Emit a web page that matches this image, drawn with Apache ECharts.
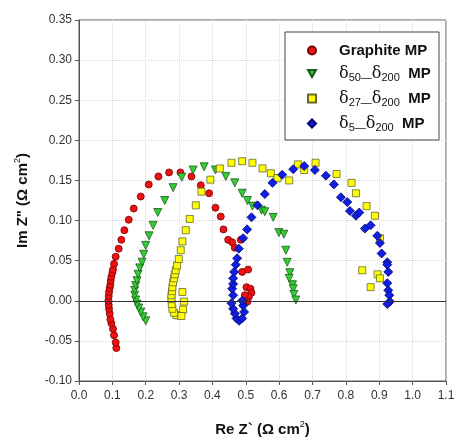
<!DOCTYPE html>
<html><head><meta charset="utf-8">
<script src="https://cdn.jsdelivr.net/npm/echarts@6/dist/echarts.min.js"></script>
<style>html,body{margin:0;padding:0;background:#fff}#c{width:458px;height:448px}</style>
</head><body><div id="c"></div>
<script>
var seriesNames = ['Graphite MP', 'd50', 'd27', 'd5'];
var xTicks = [0.0,0.1,0.2,0.3,0.4,0.5,0.6,0.7,0.8,0.9,1.0,1.1];
var yTicks = [-0.10,-0.05,0.00,0.05,0.10,0.15,0.20,0.25,0.30,0.35];

var graphiteX = [0.112,0.110,0.105,0.102,0.097,0.094,0.092,0.090,0.089,0.088,0.089,0.090,0.092,0.094,0.095,0.097,0.100,0.102,0.105,0.110,0.119,0.127,0.136,0.149,0.164,0.185,0.209,0.238,0.270,0.304,0.337,0.365,0.390,0.409,0.425,0.433,0.447,0.459,0.467,0.485,0.489,0.507,0.502,0.514,0.517,0.509,0.497,0.505,0.494];
var graphiteY = [-0.059,-0.052,-0.043,-0.035,-0.028,-0.023,-0.016,-0.010,-0.005,0.000,0.006,0.011,0.016,0.020,0.025,0.030,0.035,0.039,0.046,0.055,0.065,0.076,0.088,0.101,0.115,0.130,0.145,0.155,0.160,0.160,0.155,0.144,0.134,0.116,0.105,0.089,0.076,0.073,0.066,0.076,0.036,0.039,0.017,0.015,0.010,0.005,0.007,-0.001,0.000];

var d50X = [0.200,0.192,0.185,0.179,0.174,0.170,0.167,0.167,0.170,0.174,0.177,0.182,0.189,0.194,0.200,0.210,0.222,0.236,0.257,0.282,0.308,0.342,0.375,0.409,0.440,0.467,0.489,0.505,0.520,0.547,0.557,0.582,0.599,0.614,0.620,0.624,0.632,0.630,0.640,0.642,0.644,0.650];
var d50Y = [-0.025,-0.020,-0.014,-0.009,-0.004,0.001,0.007,0.013,0.019,0.025,0.033,0.041,0.048,0.058,0.069,0.081,0.094,0.110,0.125,0.141,0.154,0.163,0.167,0.163,0.155,0.147,0.134,0.125,0.118,0.113,0.111,0.104,0.085,0.083,0.063,0.048,0.035,0.028,0.020,0.015,0.008,0.001];

var d27X = [0.300,0.292,0.285,0.280,0.278,0.277,0.277,0.279,0.280,0.282,0.285,0.287,0.290,0.294,0.299,0.305,0.310,0.320,0.332,0.350,0.367,0.394,0.422,0.457,0.489,0.520,0.550,0.575,0.595,0.630,0.656,0.675,0.709,0.772,0.817,0.830,0.862,0.887,0.902,0.849,0.895,0.902,0.874,0.310,0.315,0.312,0.307];
var d27Y = [-0.018,-0.018,-0.015,-0.010,-0.004,0.002,0.007,0.012,0.017,0.023,0.028,0.033,0.038,0.044,0.052,0.063,0.074,0.088,0.102,0.119,0.136,0.151,0.165,0.172,0.174,0.172,0.165,0.159,0.153,0.150,0.170,0.163,0.172,0.158,0.147,0.134,0.118,0.106,0.078,0.038,0.033,0.028,0.017,0.011,-0.001,-0.011,-0.019];

var d5X = [0.480,0.472,0.489,0.467,0.495,0.462,0.492,0.457,0.489,0.462,0.459,0.462,0.462,0.465,0.470,0.474,0.479,0.492,0.504,0.517,0.535,0.557,0.580,0.609,0.642,0.675,0.707,0.740,0.764,0.785,0.804,0.812,0.830,0.840,0.857,0.874,0.894,0.902,0.907,0.924,0.924,0.927,0.924,0.927,0.930,0.932,0.924];
var d5Y = [-0.025,-0.022,-0.022,-0.016,-0.014,-0.010,-0.006,-0.003,0.000,0.007,0.015,0.021,0.028,0.036,0.045,0.053,0.065,0.078,0.089,0.104,0.119,0.133,0.147,0.157,0.164,0.168,0.163,0.156,0.145,0.129,0.123,0.112,0.106,0.110,0.090,0.094,0.081,0.072,0.059,0.048,0.045,0.036,0.022,0.013,0.007,-0.001,-0.004];

function pairs(xs, ys){ return xs.map(function(x,i){return [x, ys[i]];}); }

var legendText = {
  'Graphite MP': '{b|Graphite MP}',
  'd50': '{d|δ}{s|50—}{d|δ}{s|200}{b|  MP}',
  'd27': '{d|δ}{s|27—}{d|δ}{s|200}{b|  MP}',
  'd5':  '{d|δ}{s|5—}{d|δ}{s|200}{b|  MP}'
};
var legendIcons = {
  'Graphite MP': 'circle',
  'd50': 'path://M0,0 L10,0 L5,9 Z',
  'd27': 'rect',
  'd5': 'diamond'
};

var chart = echarts.init(document.getElementById('c'), null, {renderer:'canvas'});
var ff = 'Liberation Sans, Arial, sans-serif';
chart.setOption({
  animation: false,
  backgroundColor: '#fff',
  grid: {left: 79, right: 12, top: 20, bottom: 67, show: true, borderColor: '#555', borderWidth: 1, backgroundColor: 'transparent'},
  graphic: [{type:'rect', shape:{x:285, y:32, width:154, height:108}, style:{fill:'#fff', stroke:'#444', lineWidth:1}, z: 5}],
  legend: {
    orient: 'vertical', left: 302, top: 38, itemGap: 5, itemWidth: 8, itemHeight: 8, z: 10,
    data: seriesNames.map(function(n){ return {name: n, icon: legendIcons[n]}; }),
    formatter: function(n){ return legendText[n]; },
    textStyle: {
      fontFamily: ff, color: '#111', padding: [0,0,0,18],
      rich: {
        b: {fontSize: 15, fontWeight: 'bold', fontFamily: ff, color:'#111', lineHeight: 19},
        d: {fontSize: 16, fontFamily: 'DejaVu Serif, serif', color:'#111', lineHeight: 19},
        s: {fontSize: 11, fontFamily: ff, color:'#111', verticalAlign:'bottom', lineHeight: 19, padding:[9,0,0,0]}
      }
    }
  },
  xAxis: {
    type: 'value', min: 0, max: 1.1, interval: 0.1,
    name: '{b|Re Z` (Ω cm}{sup|2}{b|)}', nameLocation: 'middle', nameGap: 39,
    nameTextStyle: {rich: {
      b: {fontSize: 15, fontWeight: 'bold', fontFamily: ff, color:'#111', lineHeight: 20},
      sup: {fontSize: 9, fontFamily: ff, color:'#111', verticalAlign:'top', lineHeight: 20, padding:[0,0,9,0]}
    }},
    axisLine: {onZero: false, lineStyle: {color: '#555'}},
    axisTick: {show: true, inside: false, length: 4, lineStyle:{color:'#555'}},
    axisLabel: {fontFamily: ff, fontSize: 12, color: '#333', margin: 9, formatter: function(v){return v.toFixed(1);}},
    splitLine: {show: true, lineStyle: {type: 'dotted', color: '#d8d8d8'}}
  },
  yAxis: {
    type: 'value', min: -0.10, max: 0.35, interval: 0.05,
    name: '{b|Im Z" (Ω cm}{sup|2}{b|)}', nameLocation: 'middle', nameGap: 46, nameRotate: 90,
    nameTextStyle: {rich: {
      b: {fontSize: 15, fontWeight: 'bold', fontFamily: ff, color:'#111', lineHeight: 20},
      sup: {fontSize: 9, fontFamily: ff, color:'#111', verticalAlign:'top', lineHeight: 20, padding:[0,0,9,0]}
    }},
    axisLine: {onZero: false, lineStyle: {color: '#555'}},
    axisTick: {show: true, inside: false, length: 4, lineStyle:{color:'#555'}},
    axisLabel: {fontFamily: ff, fontSize: 12, color: '#333', margin: 7, formatter: function(v){return v.toFixed(2);}},
    splitLine: {show: true, lineStyle: {type: 'dotted', color: '#d8d8d8'}}
  },
  series: [
    {name: 'Graphite MP', type: 'scatter', symbol: 'circle', symbolSize: 7, z: 3,
     itemStyle: {color: '#ee1111', borderColor: '#7a0000', borderWidth: 0.8, opacity: 1},
     data: pairs(graphiteX, graphiteY),
     markLine: {silent: true, symbol: 'none', label: {show:false}, lineStyle: {color:'#333', type:'solid', width: 1}, data: [{yAxis: 0}]}},
    {name: 'd50', type: 'scatter', symbol: 'triangle', symbolRotate: 180, symbolSize: 8, z: 3,
     itemStyle: {color: '#33cc33', borderColor: '#1a5a1a', borderWidth: 0.8, opacity: 1},
     data: pairs(d50X, d50Y)},
    {name: 'd27', type: 'scatter', symbol: 'rect', symbolSize: 7, z: 3,
     itemStyle: {color: '#ffff00', borderColor: '#666633', borderWidth: 0.8, opacity: 1},
     data: pairs(d27X, d27Y)},
    {name: 'd5', type: 'scatter', symbol: 'diamond', symbolSize: 9, z: 3,
     itemStyle: {color: '#1020e0', borderColor: '#000070', borderWidth: 0.8, opacity: 1},
     data: pairs(d5X, d5Y)}
  ]
});
</script></body></html>
